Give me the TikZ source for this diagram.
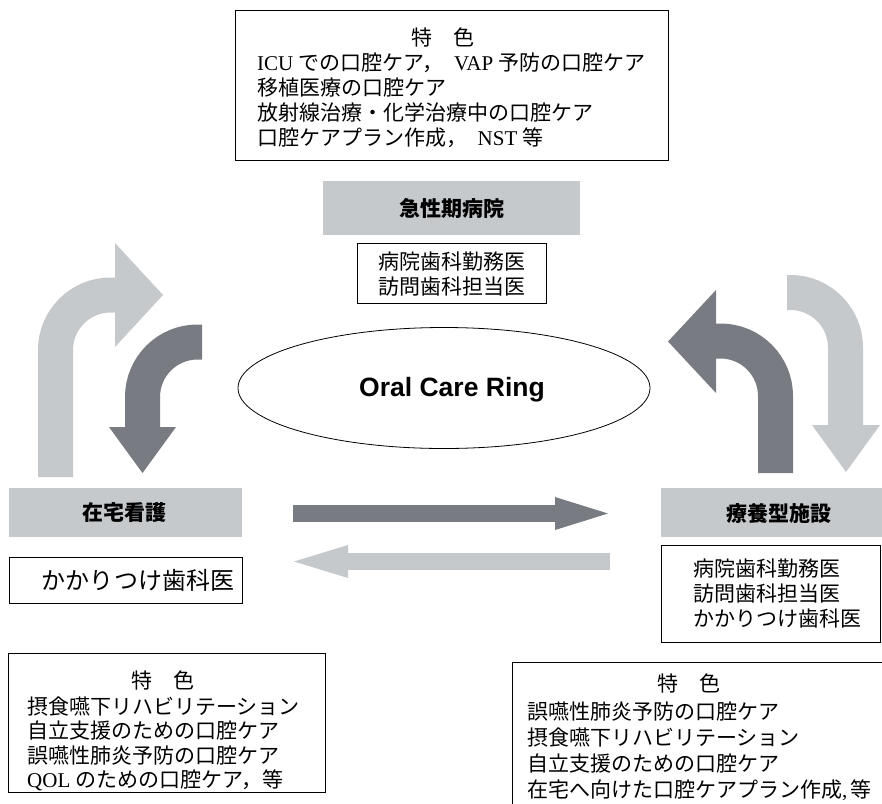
\documentclass[tikz,border=0pt]{standalone}
\usepackage{fontspec}
\setmainfont{Liberation Serif}
\newfontfamily\jp{Noto Sans CJK JP}
\newfontfamily\hv{Liberation Sans}
\usetikzlibrary{shapes.geometric}
\definecolor{lightg}{HTML}{C6C9CC}
\definecolor{darkg}{HTML}{797B82}
\begin{document}
\begin{tikzpicture}[x=1pt,y=-1pt,
  framebox/.style={draw=black, line width=0.8pt, inner sep=0pt, anchor=north west},
  hdrbox/.style={fill=lightg, inner sep=0pt, anchor=north west},
  hdrtext/.style={inner sep=0pt, font=\jp\bfseries\fontsize{21}{25}\selectfont},
  bodytext/.style={inner sep=0pt, align=left, anchor=west, font=\jp\fontsize{21}{25}\selectfont},
  ctext/.style={inner sep=0pt, align=center, font=\jp\fontsize{21}{25}\selectfont},
  bigarrow/.style={line width=35pt, rounded corners=55pt},
]
\useasboundingbox (0,0) rectangle (882,803);
\clip (0,0) rectangle (882,803);

% ---------- top feature box ----------
\node[framebox, minimum width=433pt, minimum height=150pt] (topbox) at (235,10) {};
\node[ctext] (toph) at (443,37) {特　色};
\node[bodytext] (topt) at (257,100) {%
{\rmfamily ICU}\hspace{.25em}での口腔ケア，\hspace{.5em}{\rmfamily VAP}\hspace{.25em}予防の口腔ケア\\
移植医療の口腔ケア\\
放射線治療・化学治療中の口腔ケア\\
口腔ケアプラン作成，\hspace{.5em}{\rmfamily NST}\hspace{.25em}等};

% ---------- acute hospital ----------
\node[hdrbox, minimum width=257pt, minimum height=54pt] (acute) at (323,181) {};
\node[hdrtext] (acutet) at (451.5,208) {急性期病院};
\node[framebox, minimum width=189pt, minimum height=60pt] (acuteDoc) at (357,243) {};
\node[ctext] (acuteDoct) at (452,274.5) {病院歯科勤務医\\訪問歯科担当医};

% ---------- ring ----------
\node[ellipse, draw=black, line width=0.8pt, minimum width=412pt, minimum height=121pt, inner sep=0pt] (ring) at (444,388) {};
\node[inner sep=0pt, font=\hv\bfseries\fontsize{26.5}{30}\selectfont] (ringt) at (452,390) {Oral Care Ring};

% ---------- home nursing ----------
\node[hdrbox, minimum width=233pt, minimum height=49pt] (home) at (9,488) {};
\node[hdrtext] (homet) at (124,513) {在宅看護};
\node[framebox, minimum width=233pt, minimum height=46pt] (homeDoc) at (9,557) {};
\node[inner sep=0pt, font=\jp\fontsize{24}{28}\selectfont] (homeDoct) at (138,580) {かかりつけ歯科医};

% ---------- care facility ----------
\node[hdrbox, minimum width=235pt, minimum height=49pt] (care) at (661,488) {};
\node[hdrtext] (caret) at (778.5,513) {療養型施設};
\node[framebox, minimum width=219pt, minimum height=97pt] (careDoc) at (661,545) {};
\node[bodytext] (careDoct) at (693,594) {病院歯科勤務医\\訪問歯科担当医\\かかりつけ歯科医};

% ---------- bottom left feature box ----------
\node[framebox, minimum width=317pt, minimum height=139pt] (blbox) at (8,653) {};
\node[ctext] (blh) at (163,680) {特　色};
\node[bodytext, font=\jp\fontsize{21}{24.5}\selectfont] (blt) at (27,744) {%
摂食嚥下リハビリテーション\\
自立支援のための口腔ケア\\
誤嚥性肺炎予防の口腔ケア\\
{\rmfamily QOL}\hspace{.25em}のための口腔ケア，等};

% ---------- bottom right feature box (cut by the frame) ----------
\node[framebox, minimum width=420pt, minimum height=200pt] (brbox) at (512,662) {};
\node[ctext] (brh) at (689,683) {特　色};
\node[bodytext, font=\jp\fontsize{21}{26}\selectfont] (brt) at (527,751) {%
誤嚥性肺炎予防の口腔ケア\\
摂食嚥下リハビリテーション\\
自立支援のための口腔ケア\\
在宅へ向けた口腔ケアプラン作成{\rmfamily ,\,}等};

% ---------- curved arrows, left ----------
\draw[lightg, bigarrow] (55.5,477) |- (116,295);
\fill[lightg] (115,243) -- (163,295) -- (115,347) -- cycle;
\draw[darkg, bigarrow] (202,342) -| (142.5,428);
\fill[darkg] (109,427) -- (176,427) -- (142.5,473) -- cycle;

% ---------- curved arrows, right ----------
\draw[darkg, bigarrow] (775.5,473) |- (715,341);
\fill[darkg] (716,290) -- (668,341.5) -- (716,393) -- cycle;
\draw[lightg, bigarrow] (787,292.5) -| (845.5,426);
\fill[lightg] (812,425) -- (880,425) -- (846,472) -- cycle;

% ---------- straight arrows ----------
\fill[darkg] (293,505) rectangle (556,522);
\fill[darkg] (555,497) -- (608,513.5) -- (555,530) -- cycle;
\fill[lightg] (347,553) rectangle (610,570);
\fill[lightg] (348,545) -- (294,561.5) -- (348,578) -- cycle;
\end{tikzpicture}
\end{document}
